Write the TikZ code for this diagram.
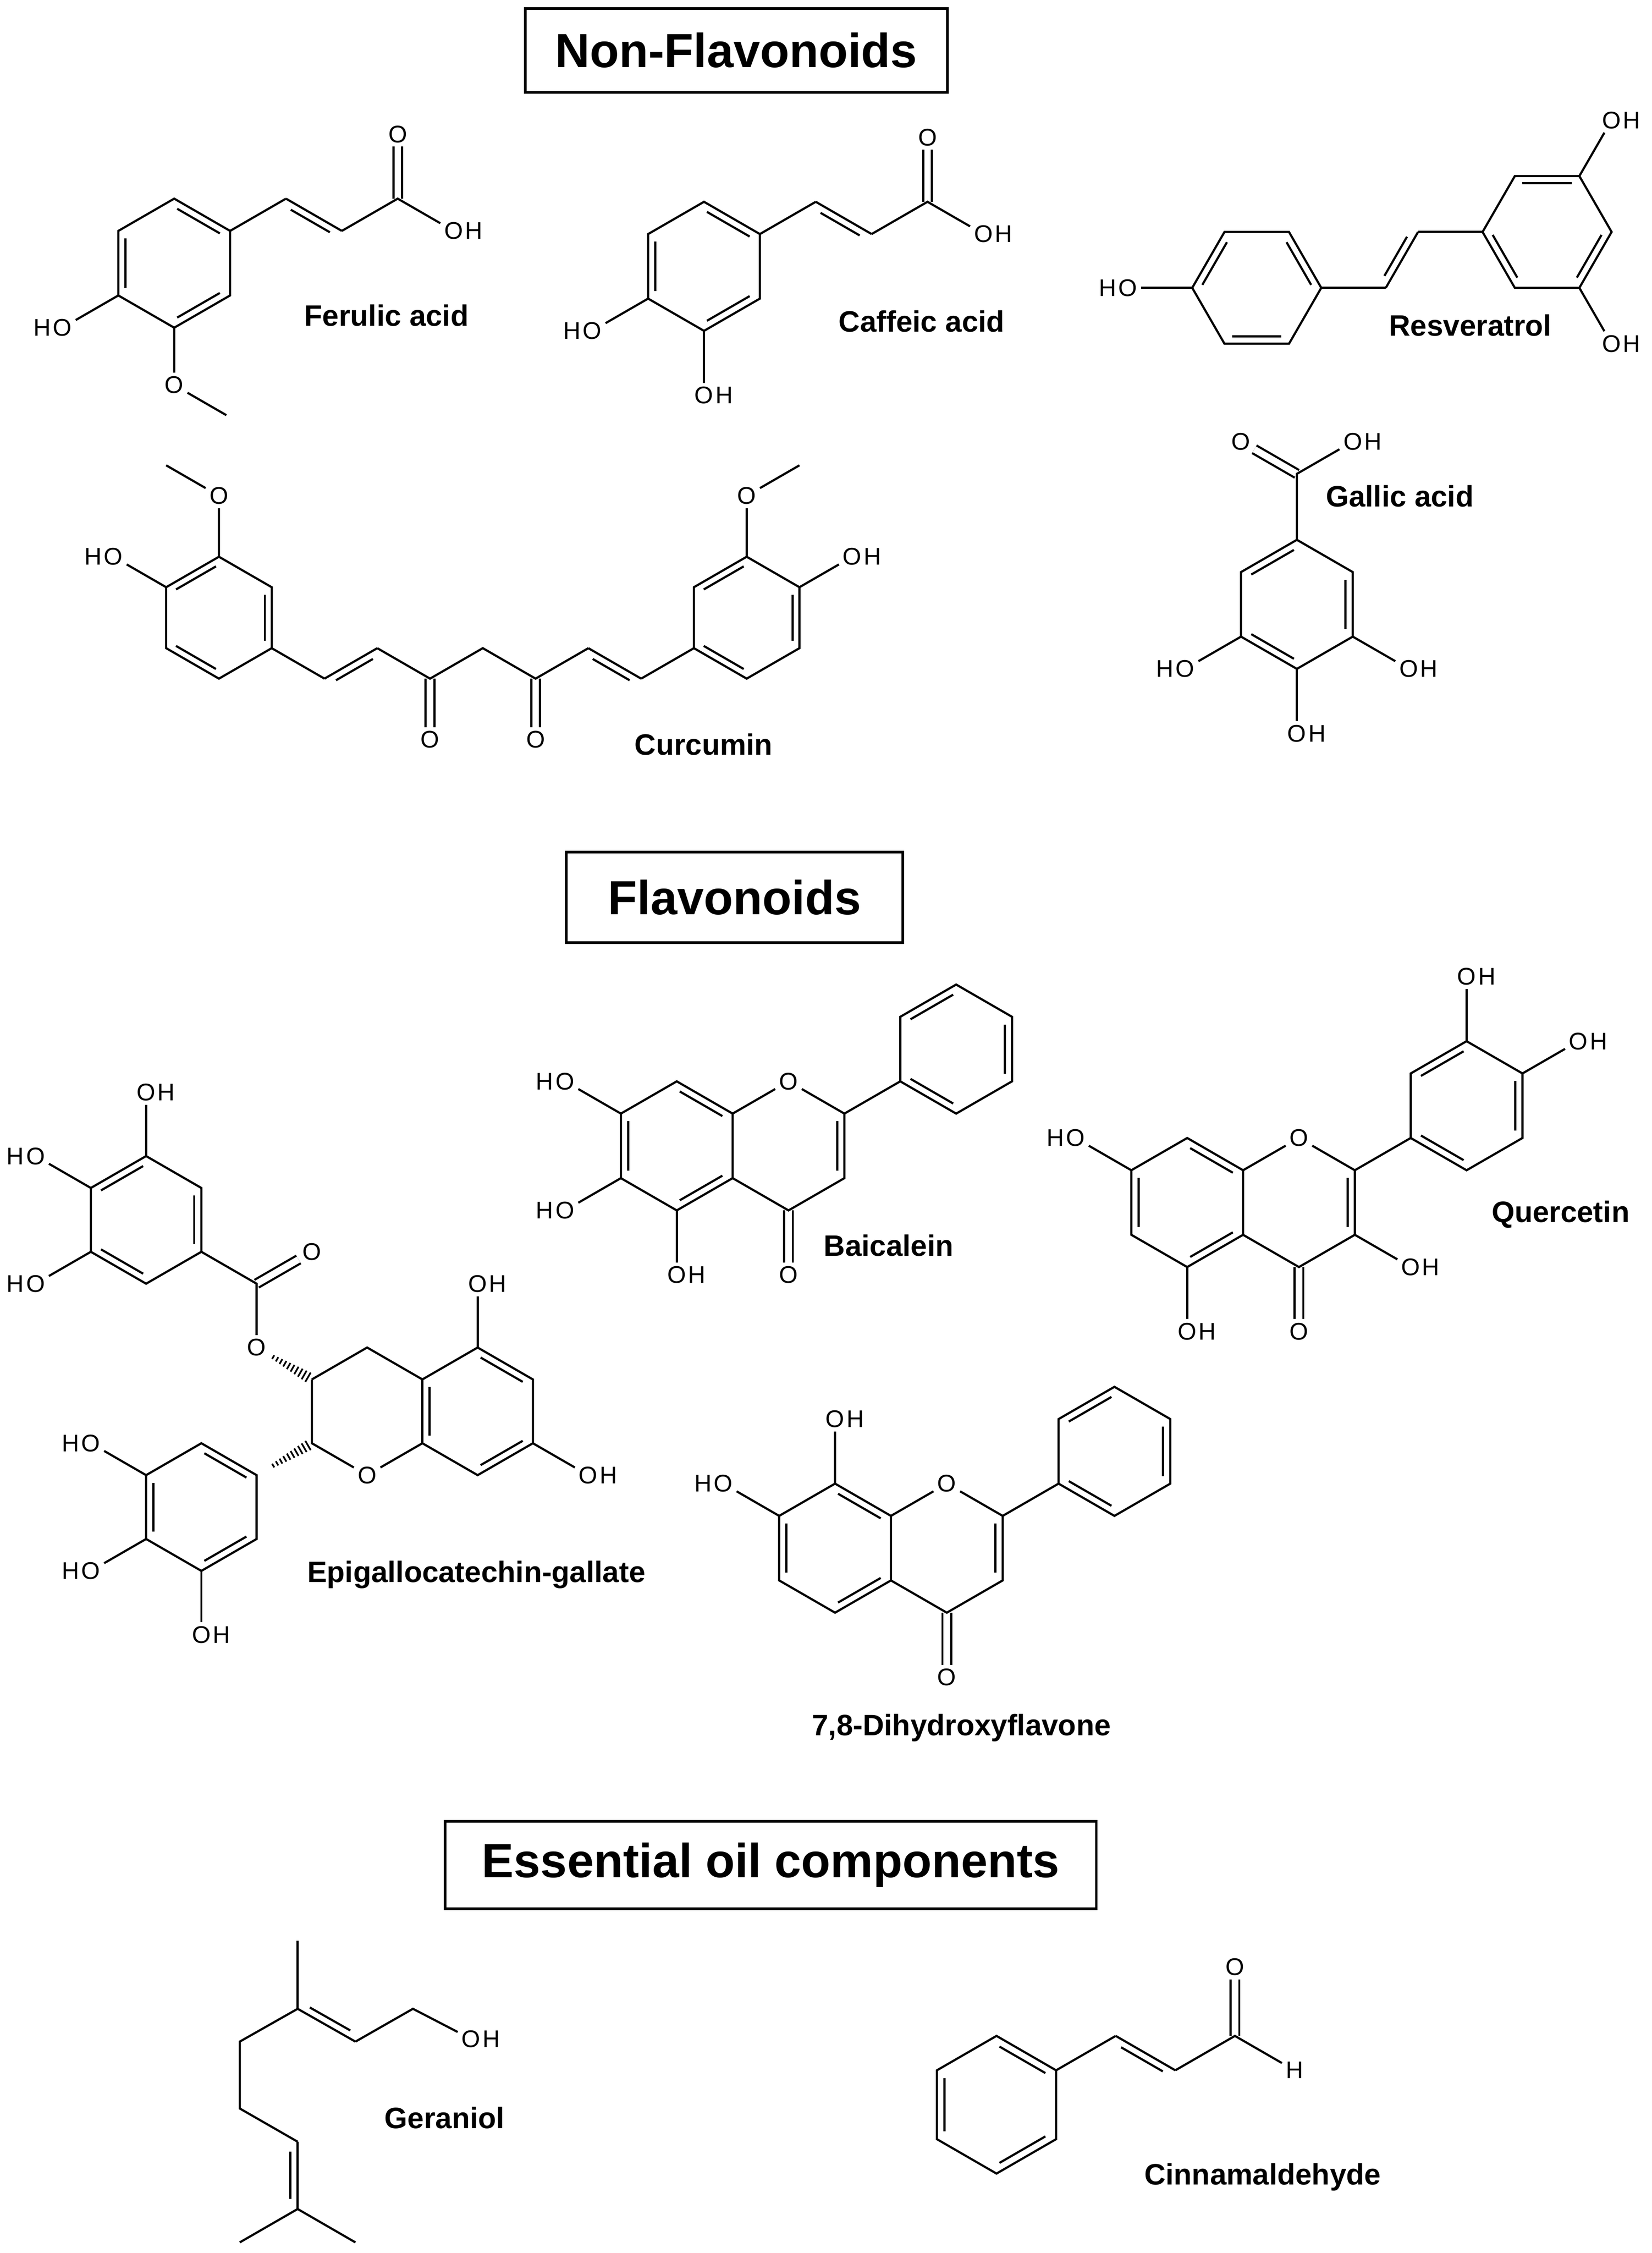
\documentclass[tikz,border=0pt]{standalone}
\usepackage{fontspec}
\setmainfont{Liberation Sans}
\usetikzlibrary{calc}
\newcommand\ring[4]{\foreach \k in {1,...,6}{\coordinate (#1\k) at ($(#2)+({#4+60*(\k-1)}:#3)$);}\coordinate (#1c) at (#2);}
\newcommand\hexdraw[1]{\draw (#11)--(#12)--(#13)--(#14)--(#15)--(#16)--cycle;}
\newcommand\inr[3]{\draw[shorten <=1.2pt,shorten >=1.2pt] ($(#1#2)!0.13!(#1c)$) -- ($(#1#3)!0.13!(#1c)$);}
\newcommand\patA[1]{\inr{#1}{1}{2}\inr{#1}{3}{4}\inr{#1}{5}{6}}
\newcommand\patB[1]{\inr{#1}{6}{1}\inr{#1}{2}{3}\inr{#1}{4}{5}}
\newcommand\sdb[3]{\draw (#1)--(#2); \draw ($(#1)!0.15!(#2)!2.5pt!#3:(#2)$) -- ($(#1)!0.85!(#2)!2.5pt!#3:(#2)$);}
\newcommand\OHx[2]{\node[atom] (#1) at (#2) {O}; \node[atom,inner sep=0pt,anchor=base west] at ([xshift=-1pt]#1.base east) {H};}
\newcommand\HOx[2]{\node[atom] (#1) at (#2) {O}; \node[atom,inner sep=0pt,anchor=base east] at ([xshift=1pt]#1.base west) {H};}
\newcommand\hashb[2]{\foreach \t in {0.3,0.37,...,0.99}{\pgfmathsetmacro\w{0.2+1.8*\t}\draw[line width=0.6pt] ($(#1)!\t!(#2)!\w pt!90:(#2)$) -- ($(#1)!\t!(#2)!\w pt!-90:(#2)$);}}
\begin{document}
\begin{tikzpicture}[x=0.5pt,y=-0.5pt,line width=0.75pt,
  atom/.style={inner sep=1pt,font=\fontsize{8.4}{10}\selectfont},
  nm/.style={inner sep=0pt,font=\bfseries\fontsize{10.3}{12}\selectfont},
  ttl/.style={draw,line width=0.9pt,inner sep=0pt,font=\bfseries\fontsize{16.7}{20}\selectfont},
  dbl/.style={double,double distance=2.3pt}]
\useasboundingbox (0,0) rectangle (1152,1571);

% ---------- titles
\node[ttl,minimum width=147.2pt,minimum height=29.15pt] (t1) at (513.5,35.15) {Non-Flavonoids};
\node[ttl,minimum width=117.4pt,minimum height=31.55pt] (t2) at (512.3,625.65) {Flavonoids};
\node[ttl,minimum width=227.05pt,minimum height=30.5pt] (t3) at (537.55,1300.5) {Essential oil components};

% ---------- Ferulic acid
\ring{fa}{121.5,183.5}{45}{-90}
\coordinate (fa7) at ($(fa2)+(-30:45)$);
\coordinate (fa8) at ($(fa7)+(30:45)$);
\coordinate (fa9) at ($(fa8)+(-30:45)$);
\node[atom] (faO1) at ($(fa9)+(-90:45)$) {O};
\OHx{faO2}{$(fa9)+(30:45)$}
\HOx{faO3}{$(fa5)+(150:45)$}
\node[atom] (faO4) at ($(fa4)+(90:40)$) {O};
\coordinate (faMe) at ($(faO4)+(30:42)$);
\draw[dbl] (fa9)--(faO1);
\hexdraw{fa}\patA{fa}
\draw (fa2)--(fa7); \sdb{fa7}{fa8}{-90}; \draw (fa8)--(fa9)--(faO2);
\draw (fa5)--(faO3); \draw (fa4)--(faO4)--(faMe);
\node[nm] (nFa) at (269.6,220) {Ferulic acid};

% ---------- Caffeic acid
\ring{ca}{491,185.7}{45}{-90}
\coordinate (ca7) at ($(ca2)+(-30:45)$);
\coordinate (ca8) at ($(ca7)+(30:45)$);
\coordinate (ca9) at ($(ca8)+(-30:45)$);
\node[atom] (caO1) at ($(ca9)+(-90:45)$) {O};
\OHx{caO2}{$(ca9)+(30:45)$}
\HOx{caO3}{$(ca5)+(150:45)$}
\OHx{caO4}{$(ca4)+(90:45)$}
\draw[dbl] (ca9)--(caO1);
\hexdraw{ca}\patA{ca}
\draw (ca2)--(ca7); \sdb{ca7}{ca8}{-90}; \draw (ca8)--(ca9)--(caO2);
\draw (ca5)--(caO3); \draw (ca4)--(caO4);
\node[nm] (nCa) at (642.8,224) {Caffeic acid};

% ---------- Resveratrol
\ring{rl}{876.5,200.7}{45}{0}
\HOx{rlO}{$(rl4)+(180:45)$}
\coordinate (rc1) at ($(rl1)+(0:45)$);
\coordinate (rc2) at ($(rc1)+(-60:45)$);
\coordinate (rrc0) at ($(rc2)+(0:90)$);
\ring{rr}{rrc0}{45}{0}
\OHx{rrO1}{$(rr6)+(-60:45)$}
\OHx{rrO2}{$(rr2)+(60:45)$}
\hexdraw{rl}\patB{rl}\hexdraw{rr}\patA{rr}
\draw (rl4)--(rlO); \draw (rl1)--(rc1); \sdb{rc1}{rc2}{90}; \draw (rc2)--(rr4);
\draw (rr6)--(rrO1); \draw (rr2)--(rrO2);
\node[nm] (nRe) at (1025.5,227) {Resveratrol};

% ---------- Gallic acid
\ring{ga}{904.5,421.4}{45}{-90}
\coordinate (gaC) at ($(ga1)+(-90:46)$);
\node[atom] (gaO1) at ($(gaC)+(210:45)$) {O};
\OHx{gaO2}{$(gaC)+(-30:45)$}
\HOx{gaO3}{$(ga5)+(150:45)$}
\OHx{gaO4}{$(ga3)+(30:45)$}
\OHx{gaO5}{$(ga4)+(90:45)$}
\draw[dbl] (gaC)--(gaO1);
\hexdraw{ga}\patB{ga}
\draw (ga1)--(gaC)--(gaO2); \draw (ga5)--(gaO3); \draw (ga3)--(gaO4); \draw (ga4)--(gaO5);
\node[nm] (nGa) at (976.3,346) {Gallic acid};

% ---------- Curcumin
\ring{cl}{152.7,430.7}{42.5}{-90}
\node[atom] (clO) at ($(cl1)+(-90:42.5)$) {O};
\coordinate (clMe) at ($(clO)+(210:42.5)$);
\HOx{clO2}{$(cl6)+(210:42.5)$}
\coordinate (k1) at ($(cl3)+(30:42.5)$);
\coordinate (k2) at ($(k1)+(-30:42.5)$);
\coordinate (k3) at ($(k2)+(30:42.5)$);
\coordinate (k4) at ($(k3)+(-30:42.5)$);
\coordinate (k5) at ($(k4)+(30:42.5)$);
\coordinate (k6) at ($(k5)+(-30:42.5)$);
\coordinate (k7) at ($(k6)+(30:42.5)$);
\coordinate (crc0) at ($(k7)+(-30:85)$);
\ring{cr}{crc0}{42.5}{-90}
\node[atom] (kO1) at ($(k3)+(90:42.5)$) {O};
\node[atom] (kO2) at ($(k5)+(90:42.5)$) {O};
\node[atom] (crO) at ($(cr1)+(-90:42.5)$) {O};
\coordinate (crMe) at ($(crO)+(-30:42.5)$);
\OHx{crO2}{$(cr2)+(-30:42.5)$}
\draw[dbl] (k3)--(kO1); \draw[dbl] (k5)--(kO2);
\hexdraw{cl}\patB{cl}\hexdraw{cr}\patB{cr}
\draw (clMe)--(clO)--(cl1); \draw (cl6)--(clO2);
\draw (cl3)--(k1); \sdb{k1}{k2}{-90}; \draw (k2)--(k3)--(k4)--(k5)--(k6); \sdb{k6}{k7}{-90}; \draw (k7)--(cr5);
\draw (crMe)--(crO)--(cr1); \draw (cr2)--(crO2);
\node[nm] (nCu) at (490.7,519) {Curcumin};

% ---------- EGCG
\ring{eg}{101.9,850.6}{44.5}{-90}
\OHx{egO1}{$(eg1)+(-90:44.5)$}
\HOx{egO2}{$(eg6)+(210:44.5)$}
\HOx{egO3}{$(eg5)+(150:44.5)$}
\coordinate (eC) at ($(eg3)+(30:44.5)$);
\node[atom] (eOc) at ($(eC)+(-30:44.5)$) {O};
\node[atom] (eOe) at ($(eC)+(90:44.5)$) {O};
\coordinate (ecc0) at ($(eC)+(90:44.5)+(30:89)$);
\ring{ec}{ecc0}{44.5}{-90}
\coordinate (eac0) at ($(ecc0)+(0:77.07)$);
\ring{ea}{eac0}{44.5}{-90}
\node[atom] (eO1) at (ec4) {O};
\coordinate (ebc0) at ($(ec5)+(150:89)$);
\ring{eb}{ebc0}{44.5}{-90}
\OHx{eaO1}{$(ea1)+(-90:44.5)$}
\OHx{eaO2}{$(ea3)+(30:44.5)$}
\HOx{ebO1}{$(eb6)+(210:44.5)$}
\HOx{ebO2}{$(eb5)+(150:44.5)$}
\OHx{ebO3}{$(eb4)+(90:44.5)$}
\draw[dbl] (eC)--(eOc);
\hexdraw{eg}\patB{eg}\hexdraw{ea}\patA{ea}\hexdraw{eb}\patA{eb}
\draw (eg1)--(egO1); \draw (eg6)--(egO2); \draw (eg5)--(egO3);
\draw (eg3)--(eC)--(eOe);
\draw (ec6)--(ec1)--(ec2); \draw (ec3)--(eO1)--(ec5)--(ec6);
\hashb{eOe}{ec6}
\hashb{eb2}{ec5}
\draw (ea1)--(eaO1); \draw (ea3)--(eaO2);
\draw (eb6)--(ebO1); \draw (eb5)--(ebO2); \draw (eb4)--(ebO3);
\node[nm] (nEg) at (332.2,1097.9) {Epigallocatechin-gallate};

% ---------- Baicalein
\ring{ba}{472,799}{45}{-90}
\ring{bb}{549.94,799}{45}{-90}
\node[atom] (bO) at (bb1) {O};
\node[atom] (bO4) at ($(bb4)+(90:45)$) {O};
\coordinate (bpc0) at ($(bb2)+(-30:90)$);
\ring{bp}{bpc0}{45}{-90}
\HOx{baO1}{$(ba6)+(210:45)$}
\HOx{baO2}{$(ba5)+(150:45)$}
\OHx{baO3}{$(ba4)+(90:45)$}
\draw[dbl] (bb4)--(bO4);
\hexdraw{ba}\patA{ba}\hexdraw{bp}\patB{bp}
\draw (ba2)--(bO)--(bb2)--(bb3)--(bb4)--(ba3); \inr{bb}{2}{3}
\draw (bb2)--(bp5);
\draw (ba6)--(baO1); \draw (ba5)--(baO2); \draw (ba4)--(baO3);
\node[nm] (nBa) at (619.8,868.6) {Baicalein};

% ---------- Quercetin
\ring{qa}{828,838.5}{45}{-90}
\ring{qc}{905.94,838.5}{45}{-90}
\node[atom] (qO) at (qc1) {O};
\node[atom] (qO4) at ($(qc4)+(90:45)$) {O};
\coordinate (qbc0) at ($(qc2)+(-30:90)$);
\ring{qb}{qbc0}{45}{-90}
\OHx{qO3}{$(qc3)+(30:45)$}
\OHx{qO5}{$(qa4)+(90:45)$}
\HOx{qO7}{$(qa6)+(210:45)$}
\OHx{qOb1}{$(qb1)+(-90:45)$}
\OHx{qOb2}{$(qb2)+(-30:45)$}
\draw[dbl] (qc4)--(qO4);
\hexdraw{qa}\patA{qa}\hexdraw{qb}\patB{qb}
\draw (qa2)--(qO)--(qc2)--(qc3)--(qc4)--(qa3); \inr{qc}{2}{3}
\draw (qc2)--(qb5);
\draw (qc3)--(qO3); \draw (qa4)--(qO5); \draw (qa6)--(qO7);
\draw (qb1)--(qOb1); \draw (qb2)--(qOb2);
\node[nm] (nQu) at (1088.4,846.8) {Quercetin};

% ---------- 7,8-Dihydroxyflavone
\ring{da}{582.4,1079.5}{45}{-90}
\ring{dc}{660.34,1079.5}{45}{-90}
\node[atom] (dO) at (dc1) {O};
\node[atom] (dO4) at ($(dc4)+(90:45)$) {O};
\coordinate (dbc0) at ($(dc2)+(-30:90)$);
\ring{db}{dbc0}{45}{-90}
\OHx{dO8}{$(da1)+(-90:45)$}
\HOx{dO7}{$(da6)+(210:45)$}
\draw[dbl] (dc4)--(dO4);
\hexdraw{da}\patA{da}\hexdraw{db}\patB{db}
\draw (da2)--(dO)--(dc2)--(dc3)--(dc4)--(da3); \inr{dc}{2}{3}
\draw (dc2)--(db5);
\draw (da1)--(dO8); \draw (da6)--(dO7);
\node[nm] (nDh) at (670.5,1204.7) {7,8-Dihydroxyflavone};

% ---------- Geraniol
\coordinate (g10) at (207.6,1353.2);
\coordinate (g3) at (207.6,1400.7);
\coordinate (g2) at (247.9,1423.6);
\coordinate (g1) at (288,1400.7);
\OHx{gO}{328.5,1421.7}
\coordinate (g4) at (167.2,1423.6);
\coordinate (g5) at (167.2,1470.2);
\coordinate (g6) at (207.6,1493.4);
\coordinate (g7) at (207.6,1540.3);
\coordinate (g8) at (167.2,1563.6);
\coordinate (g9) at (247.9,1563.6);
\draw (g10)--(g3); \sdb{g3}{g2}{90}; \draw (g2)--(g1)--(gO);
\draw (g3)--(g4)--(g5)--(g6); \sdb{g6}{g7}{-90}; \draw (g8)--(g7)--(g9);
\node[nm] (nGe) at (310,1476.7) {Geraniol};

% ---------- Cinnamaldehyde
\ring{ci}{695,1467.6}{48}{-90}
\coordinate (cn1) at ($(ci2)+(-30:48)$);
\coordinate (cn2) at ($(cn1)+(30:48)$);
\coordinate (cn3) at ($(cn2)+(-30:48)$);
\node[atom] (cnO) at ($(cn3)+(-90:48)$) {O};
\node[atom] (cnH) at ($(cn3)+(30:48)$) {H};
\draw[dbl] (cn3)--(cnO);
\hexdraw{ci}\patA{ci}
\draw (ci2)--(cn1); \sdb{cn1}{cn2}{-90}; \draw (cn2)--(cn3)--(cnH);
\node[nm] (nCi) at (880.6,1518) {Cinnamaldehyde};
\end{tikzpicture}
\end{document}
